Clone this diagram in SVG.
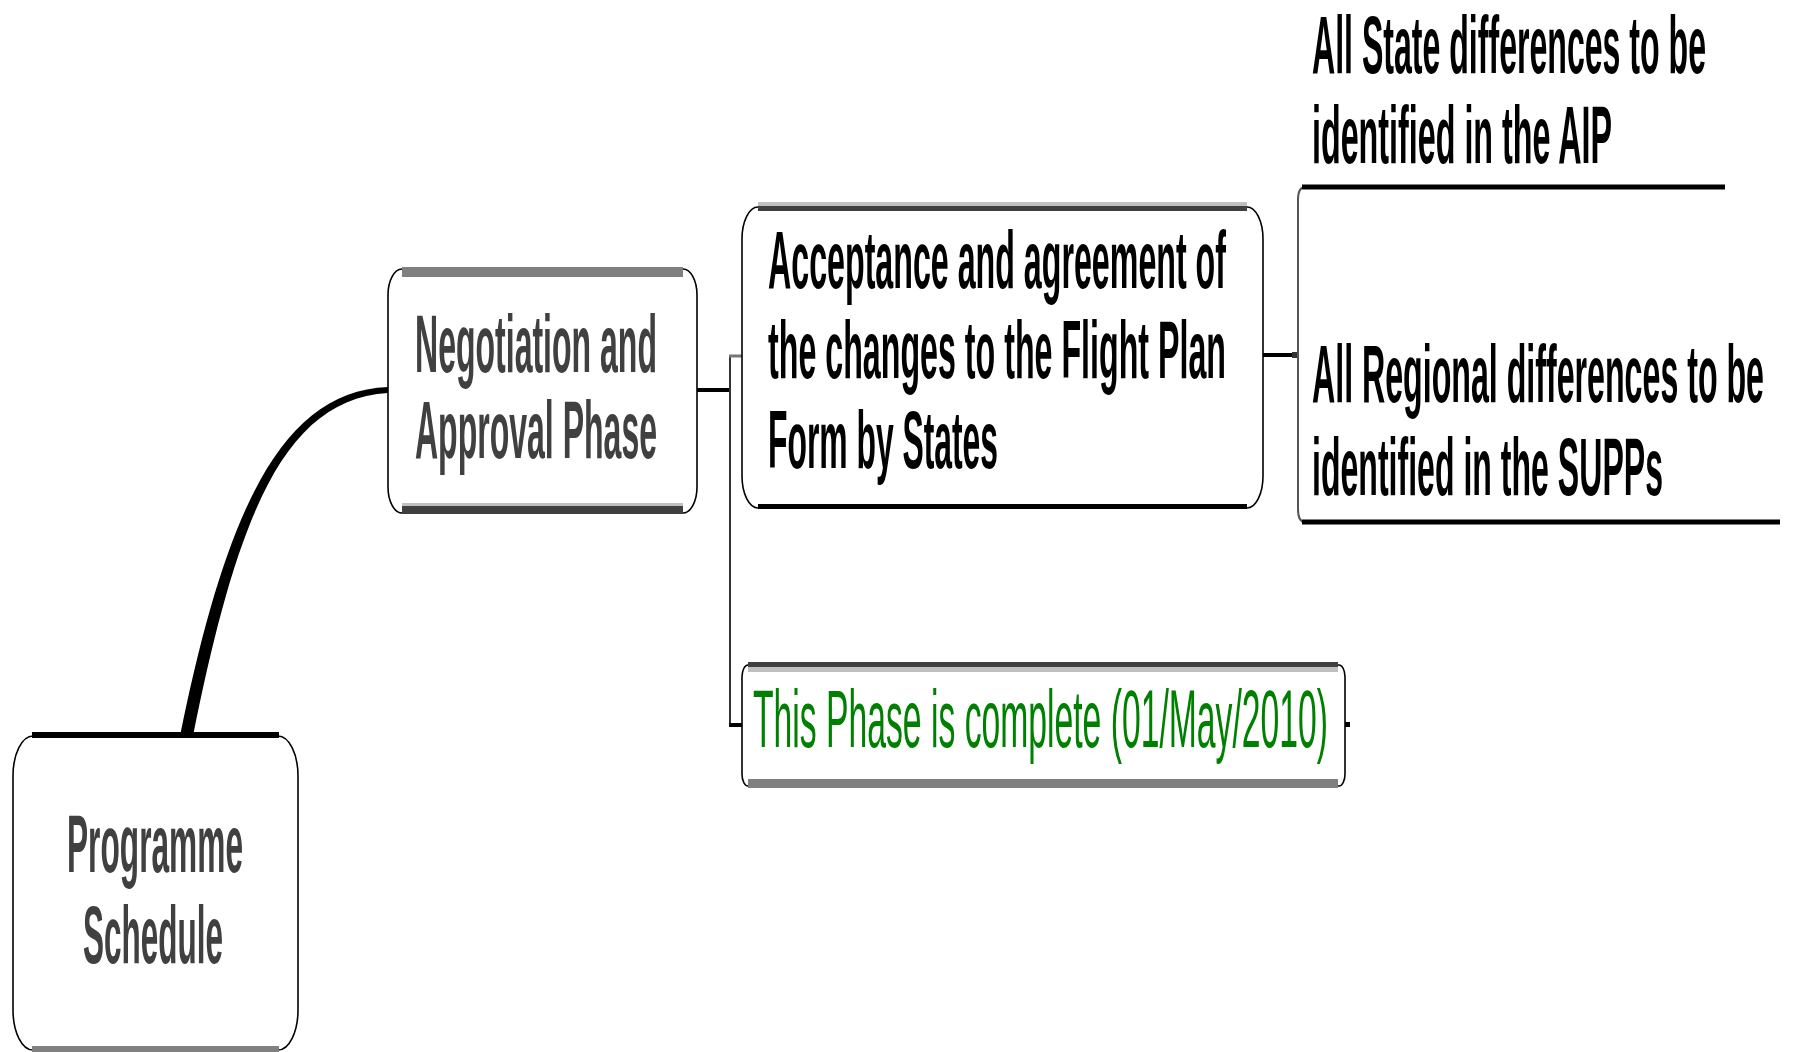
<svg xmlns="http://www.w3.org/2000/svg" width="1793" height="1052" viewBox="0 0 1793 1052">
<style>
.box{fill:#fff;stroke:#000;stroke-width:1.6}
.t{font-family:"Liberation Sans",Arial,sans-serif;font-size:82px;font-weight:bold}
.gray{fill:#404040}
.blk{fill:#000}
.grn{fill:#008000}
.ln{stroke:#000;fill:none}
</style>
<rect width="1793" height="1052" fill="#fff"/>
<g id="connectors">
<path d="M180,736 C224,520 278,391 388,387 L388,393 C282,399 236,522 193,736 Z" fill="#000"/>
<line class="ln" x1="697" y1="390" x2="730" y2="390" stroke-width="4"/>
<line x1="730" y1="356" x2="730" y2="727" stroke="#333" stroke-width="2"/>
<line x1="729" y1="356" x2="742" y2="356" stroke="#777" stroke-width="3"/>
<line class="ln" x1="729" y1="725" x2="743" y2="725" stroke-width="4"/>
<line class="ln" x1="1263" y1="355" x2="1298" y2="355" stroke-width="4"/>
<rect x="1292" y="352" width="6" height="6" fill="#333"/>
<rect x="1345" y="722" width="5" height="5" fill="#000"/>
</g>
<g id="programme-schedule">
<rect class="box" x="13" y="736" width="285" height="314" rx="20" ry="40"/>
<rect x="32" y="732" width="247" height="6" fill="#000"/>
<rect x="32" y="1046" width="247" height="6" fill="#808080"/>
<text class="t gray" x="67" y="872" textLength="176" lengthAdjust="spacingAndGlyphs">Programme</text>
<text class="t gray" x="83" y="963" textLength="140" lengthAdjust="spacingAndGlyphs">Schedule</text>
</g>
<g id="negotiation">
<rect class="box" x="388" y="269" width="309" height="244" rx="14" ry="26"/>
<rect x="402" y="267" width="281" height="10" fill="#808080"/>
<rect x="402" y="503" width="281" height="3" fill="#c0c0c0"/>
<rect x="402" y="506" width="281" height="7" fill="#404040"/>
<text class="t gray" x="415" y="372" textLength="242" lengthAdjust="spacingAndGlyphs">Negotiation and</text>
<text class="t gray" x="415" y="458" textLength="242" lengthAdjust="spacingAndGlyphs">Approval Phase</text>
</g>
<g id="acceptance">
<rect class="box" x="742" y="207" width="521" height="301" rx="16" ry="32"/>
<rect x="758" y="202" width="489" height="4" fill="#c0c0c0"/>
<rect x="758" y="206" width="489" height="5" fill="#404040"/>
<rect x="758" y="504" width="489" height="5" fill="#000"/>
<text class="t blk" x="768" y="288" textLength="458" lengthAdjust="spacingAndGlyphs">Acceptance and agreement of</text>
<text class="t blk" x="768" y="378" textLength="458" lengthAdjust="spacingAndGlyphs">the changes to the Flight Plan</text>
<text class="t blk" x="768" y="468" textLength="230" lengthAdjust="spacingAndGlyphs">Form by States</text>
</g>
<g id="state-differences">
<text class="t blk" x="1312" y="73" textLength="394" lengthAdjust="spacingAndGlyphs">All State differences to be</text>
<text class="t blk" x="1312" y="163" textLength="300" lengthAdjust="spacingAndGlyphs">identified in the AIP</text>
</g>
<g id="regional-differences">
<path d="M1725,187 L1305,187 Q1298,187 1298,200 L1298,509 Q1298,522 1305,522 L1780,522" fill="none" stroke="#555" stroke-width="2"/>
<line class="ln" x1="1302" y1="187" x2="1725" y2="187" stroke-width="5"/>
<line class="ln" x1="1302" y1="522" x2="1780" y2="522" stroke-width="5"/>
<text class="t blk" x="1312" y="402" textLength="452" lengthAdjust="spacingAndGlyphs">All Regional differences to be</text>
<text class="t blk" x="1312" y="495" textLength="351" lengthAdjust="spacingAndGlyphs">identified in the SUPPs</text>
</g>
<g id="phase-complete">
<rect class="box" x="742" y="665" width="603" height="121" rx="6" ry="12"/>
<rect x="748" y="662" width="590" height="5" fill="#404040"/>
<rect x="748" y="667" width="590" height="5" fill="#c0c0c0"/>
<rect x="748" y="779" width="590" height="9" fill="#808080"/>
<text class="t grn" x="753" y="747" textLength="575" lengthAdjust="spacingAndGlyphs" style="font-weight:normal">This Phase is complete (01/May/2010)</text>
</g>
</svg>
